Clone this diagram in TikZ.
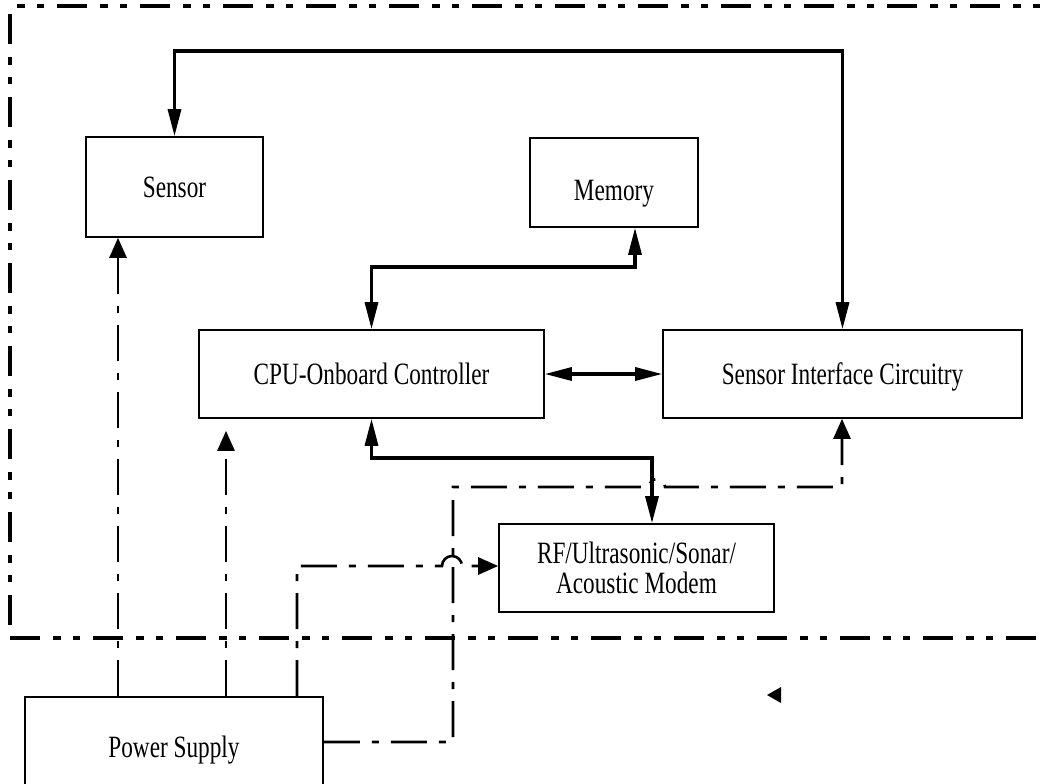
\documentclass[tikz,border=0pt]{standalone}
\usepackage{fontspec}
\setmainfont{Liberation Serif}[FakeStretch=0.75]
\usetikzlibrary{arrows.meta}
\begin{document}
\begin{tikzpicture}[x=1pt,y=-1pt,
  box/.style={draw, line width=1.6pt, inner sep=0pt, font=\fontsize{31}{30}\selectfont},
  one/.style={text height=21pt, text depth=0pt},
  bus/.style={line width=3.2pt, {Triangle[length=27pt,width=13pt]}-{Triangle[length=27pt,width=13pt]}},
  pwr/.style={line width=2.6pt, dash pattern=on 36pt off 12pt on 7pt off 12pt, -{Triangle[length=20pt,width=17pt]}},
  frame/.style={line width=3.5pt, dash pattern=on 30pt off 13pt on 8pt off 12pt on 7pt off 13pt}]
\useasboundingbox (0,0) rectangle (1055,784);
\clip (0,0) rectangle (1055,784);
% boxes
\node[box, one, minimum width=177pt, minimum height=100pt] (sensor) at (174.5,187) {Sensor};
\node[box, one, minimum width=168pt, minimum height=89pt] (memory) at (614,182.5) {\raisebox{-7pt}{Memory}};
\node[box, one, minimum width=345pt, minimum height=88pt] (cpu) at (371.5,374) {CPU-Onboard Controller};
\node[box, one, minimum width=359pt, minimum height=88pt] (sic) at (842.5,374) {Sensor Interface Circuitry};
\node[box, align=center, minimum width=275pt, minimum height=88pt] (rf) at (636.5,568) {RF/Ultrasonic/Sonar/\\Acoustic Modem};
\node[box, one, minimum width=298pt, minimum height=100pt] (psu) at (174,747) {Power Supply};
% frame
\draw[frame, dash phase=43pt] (17,6) -- (1047,6);
\draw[frame] (10,14) -- (10,630);
\draw[frame] (10,638) -- (1047,638);
% buses
\coordinate (top) at (0,51);
\draw[bus] (sensor.north) -- (sensor.north |- top) -- (sic.north |- top) -- (sic.north);
\coordinate (cm) at (0,267);
\coordinate (memin) at ([xshift=21pt]memory.south);
\draw[bus] (cpu.north) -- (cpu.north |- cm) -| (memin);
\draw[bus] (cpu.east) -- (sic.west);
\coordinate (cr) at (0,458);
\coordinate (rfin) at ([xshift=15.5pt]rf.north);
\draw[bus] (cpu.south) -- (cpu.south |- cr) -| (rfin);
% power lines
\coordinate (p1x) at (118,0);
\coordinate (p2x) at (226,0);
\coordinate (p3x) at (297,0);
\coordinate (c2) at ([yshift=-12pt]cpu.south);
\draw[pwr] (psu.north -| p1x) -- (sensor.south -| p1x);
\draw[pwr] (psu.north -| p2x) -- (c2 -| p2x);
\coordinate (p3y) at (0,566);
\coordinate (h1) at (442,566);
\draw[pwr] (psu.north -| p3x) -- (p3y -| p3x) -- (h1) arc[start angle=180, end angle=0, radius=10pt] -- (rf.west |- p3y);
\coordinate (p4y) at (0,742);
\coordinate (k1) at (453,742);
\coordinate (k2) at (453,487);
\coordinate (h2) at (649,487);
\coordinate (k3) at (842,487);
\draw[pwr] (psu.east |- p4y) -- (k1) -- (k2) -- (h2) arc[start angle=180, end angle=0, radius=8pt] -- (k3) -- (sic.south -| k3);
% stray arrowhead
\fill (767,695) -- (781,687) -- (781,703) -- cycle;
\end{tikzpicture}
\end{document}
